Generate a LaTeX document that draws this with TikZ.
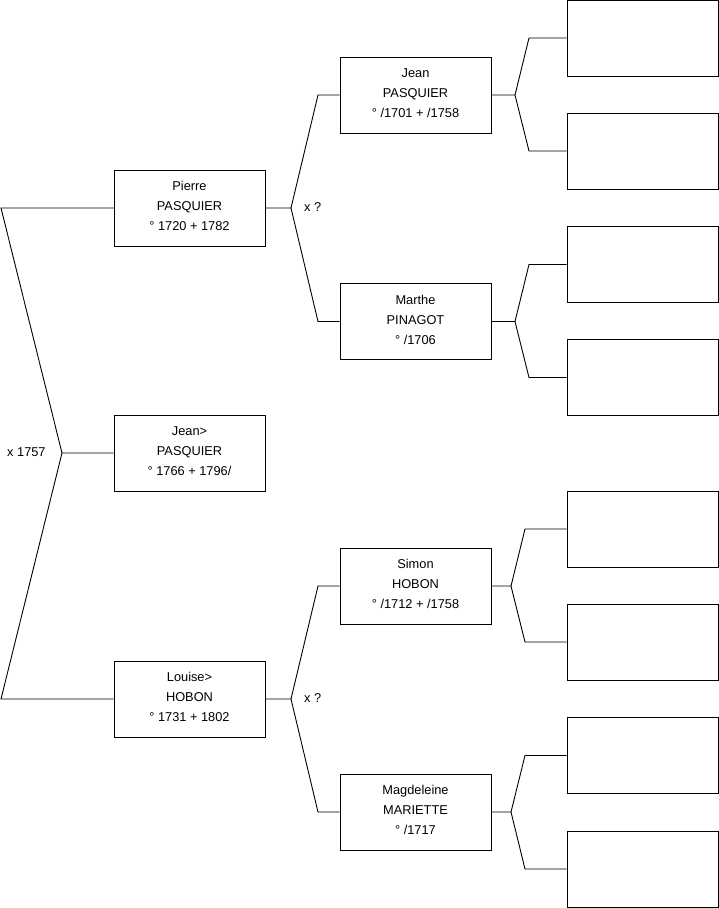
\documentclass[tikz,border=0pt]{standalone}
\usepackage{fontspec}
\setmainfont{Liberation Sans}
\begin{document}
\begin{tikzpicture}[x=1pt,y=-1pt,
  person/.style={rectangle,draw=black,line width=0.9pt,minimum width=151pt,minimum height=76pt,inner sep=0pt,align=center,font=\fontsize{12.8}{20}\selectfont,execute at end node={\rule[-4pt]{0pt}{0pt}}},
  blank/.style={person},
  wedding/.style={font=\fontsize{12.8}{14}\selectfont,anchor=west,inner sep=0pt},
  link/.style={draw=black,line width=0.9pt}]
\useasboundingbox (0,0) rectangle (719,908);
% generation 1
\node[person] (root) at (189.5,453) {Jean>\\PASQUIER\\° 1766 + 1796/};
% generation 2
\node[person] (fa) at (189.5,208) {Pierre\\PASQUIER\\° 1720 + 1782};
\node[person] (mo) at (189.5,699) {Louise>\\HOBON\\° 1731 + 1802};
% generation 3
\node[person] (ff) at (415.5,95) {Jean\\PASQUIER\\° /1701 + /1758};
\node[person] (fm) at (415.5,321.5) {Marthe\\PINAGOT\\° /1706};
\node[person] (mf) at (415.5,586) {Simon\\HOBON\\° /1712 + /1758};
\node[person] (mm) at (415.5,812) {Magdeleine\\MARIETTE\\° /1717};
% generation 4 (empty)
\node[blank] (e1) at (642.5,38) {};
\node[blank] (e2) at (642.5,151) {};
\node[blank] (e3) at (642.5,264.5) {};
\node[blank] (e4) at (642.5,377.5) {};
\node[blank] (e5) at (642.5,529) {};
\node[blank] (e6) at (642.5,642) {};
\node[blank] (e7) at (642.5,755.5) {};
\node[blank] (e8) at (642.5,869) {};
% marriages
\node[wedding] (m0) at (7,452) {x 1757};
\node[wedding] (m1) at (304,207) {x ?};
\node[wedding] (m2) at (304,698) {x ?};
% fork points
\coordinate (c0) at (62,453);
\coordinate (t0) at (1,208);
\coordinate (b0) at (1,699);
\coordinate (c1) at (291,208);
\coordinate (t1) at (318,95);
\coordinate (b1) at (318,321.5);
\coordinate (c2) at (291,699);
\coordinate (t2) at (318,586);
\coordinate (b2) at (318,812);
\coordinate (c3) at (515,95);
\coordinate (t3) at (529,38);
\coordinate (b3) at (529,151);
\coordinate (c4) at (515,321.5);
\coordinate (t4) at (529,264.5);
\coordinate (b4) at (529,377.5);
\coordinate (c5) at (511,586);
\coordinate (t5) at (525,529);
\coordinate (b5) at (525,642);
\coordinate (c6) at (511,812);
\coordinate (t6) at (525,755.5);
\coordinate (b6) at (525,869);
% connectors
\draw[link] (root.west) -- (c0) -- (t0) -- (fa.west);
\draw[link] (c0) -- (b0) -- (mo.west);
\draw[link] (fa.east) -- (c1) -- (t1) -- (ff.west);
\draw[link] (c1) -- (b1) -- (fm.west);
\draw[link] (mo.east) -- (c2) -- (t2) -- (mf.west);
\draw[link] (c2) -- (b2) -- (mm.west);
\draw[link] (ff.east) -- (c3) -- (t3) -- (e1.west);
\draw[link] (c3) -- (b3) -- (e2.west);
\draw[link] (fm.east) -- (c4) -- (t4) -- (e3.west);
\draw[link] (c4) -- (b4) -- (e4.west);
\draw[link] (mf.east) -- (c5) -- (t5) -- (e5.west);
\draw[link] (c5) -- (b5) -- (e6.west);
\draw[link] (mm.east) -- (c6) -- (t6) -- (e7.west);
\draw[link] (c6) -- (b6) -- (e8.west);
\end{tikzpicture}
\end{document}
